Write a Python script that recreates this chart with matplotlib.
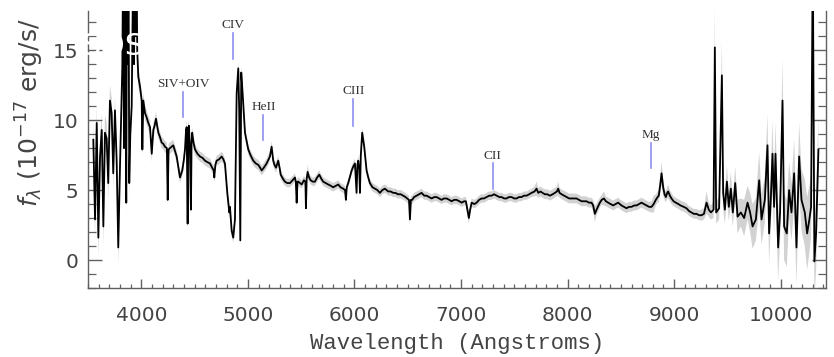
import matplotlib
matplotlib.use("Agg")
import matplotlib.pyplot as plt
import numpy as np
from matplotlib.ticker import MultipleLocator

# ---------------- data ----------------
# Segment A: Lyman-alpha forest / Lya emission
wl_a = [3550, 3566, 3582, 3597, 3613, 3629, 3644, 3659, 3675, 3690,
        3706, 3722, 3737, 3753, 3769, 3784, 3800, 3822, 3830, 3838,
        3845, 3852, 3859, 3866, 3874, 3880, 3887, 3897, 3910, 3925,
        3932, 3940, 3948, 3955, 3962, 3972, 3988, 4004]
fl_a = [8.6, 2.9, 9.8, 1.6, 7.4, 9.3, 2.4, 9.1, 8.7, 5.5,
        11.4, 10.5, 6.2, 10.7, 7.1, 0.9, 6.6, 13.8, 22.0, 8.0,
        22.0, 12.0, 4.1, 22.0, 14.0, 22.0, 5.5, 9.0, 11.0, 22.0,
        14.0, 22.0, 16.0, 22.0, 15.0, 13.1, 12.4, 11.4]
er_a = [1.3, 1.4, 1.3, 1.5, 1.2, 1.2, 1.4, 1.2, 1.2, 1.2,
        1.1, 1.1, 1.1, 1.0, 1.0, 1.2, 1.0, 1.0, 1.0, 1.0,
        1.0, 1.0, 1.0, 1.0, 1.0, 1.0, 1.0, 1.0, 1.0, 1.0,
        1.0, 1.0, 1.0, 1.0, 0.8, 0.7, 0.6, 0.6]

# Segment B: SiIV+OIV and CIV
wl_b = [4010, 4019, 4035, 4050, 4066, 4082, 4098, 4113, 4125, 4138,
        4160, 4175, 4191, 4207, 4222, 4240, 4248, 4256, 4269, 4285,
        4300, 4316, 4332, 4348, 4363, 4385, 4400, 4410, 4420, 4426,
        4435, 4441, 4447, 4456, 4466, 4472, 4478, 4490, 4504, 4527,
        4551, 4575, 4598, 4620, 4645, 4665, 4680, 4685, 4695, 4707,
        4730, 4754, 4770, 4785, 4807, 4826, 4832, 4848, 4863, 4879,
        4895, 4910, 4919, 4929, 4938, 4951]
fl_b = [7.9, 11.4, 10.5, 10.2, 9.8, 9.5, 7.6, 9.3, 9.6, 10.1,
        9.1, 8.8, 8.4, 8.3, 8.1, 8.0, 4.3, 7.9, 8.0, 8.1,
        8.2, 7.8, 7.4, 6.6, 5.9, 6.4, 7.2, 7.9, 9.3, 9.5,
        2.6, 9.3, 9.6, 8.0, 3.6, 8.5, 9.1, 8.4, 7.9, 7.6,
        7.4, 7.3, 7.1, 7.0, 6.9, 6.6, 6.4, 5.9, 6.8, 7.1,
        7.2, 7.4, 7.2, 6.9, 4.8, 3.4, 3.8, 2.1, 1.6, 2.9,
        11.9, 13.7, 10.7, 1.4, 13.4, 11.9]
er_b = [0.6, 0.6, 0.5, 0.5, 0.5, 0.5, 0.6, 0.5, 0.5, 0.5,
        0.4, 0.4, 0.4, 0.4, 0.4, 0.4, 0.5, 0.4, 0.4, 0.4,
        0.4, 0.4, 0.4, 0.4, 0.4, 0.4, 0.4, 0.4, 0.4, 0.4,
        0.5, 0.4, 0.4, 0.4, 0.5, 0.4, 0.4, 0.4, 0.4, 0.35,
        0.35, 0.35, 0.35, 0.35, 0.35, 0.35, 0.35, 0.4, 0.35, 0.35,
        0.35, 0.35, 0.35, 0.35, 0.4, 0.4, 0.4, 0.4, 0.4, 0.4,
        0.5, 0.5, 0.5, 0.5, 0.5, 0.4]

# Segment C: HeII and CIII]
wl_c = [4973, 5004, 5025, 5051, 5075, 5098, 5115, 5130, 5150, 5176,
        5195, 5207, 5223, 5238, 5250, 5264, 5285, 5300, 5308, 5330,
        5348, 5370, 5395, 5420, 5442, 5450, 5458, 5466, 5473, 5490,
        5505, 5526, 5540, 5545, 5552, 5561, 5575, 5589, 5610, 5629,
        5650, 5670, 5690, 5707, 5730, 5754, 5780, 5801, 5825, 5848,
        5870, 5895, 5912, 5920, 5928, 5942, 5960, 5974, 5990, 6005,
        6020, 6028, 6036, 6045, 6052, 6060, 6073, 6092, 6114, 6130,
        6145, 6170, 6192, 6215, 6239]
fl_c = [9.1, 7.9, 7.5, 7.1, 6.9, 6.8, 6.6, 6.4, 6.6, 6.9,
        7.2, 7.4, 8.1, 7.1, 6.8, 6.6, 7.1, 6.5, 6.1, 5.8,
        5.6, 5.5, 5.5, 5.7, 5.9, 5.6, 4.1, 5.6, 5.6, 5.5,
        5.4, 5.7, 5.6, 3.7, 5.8, 6.3, 5.9, 5.7, 5.6, 5.6,
        5.9, 6.1, 5.8, 5.6, 5.5, 5.4, 5.3, 5.2, 5.3, 5.4,
        5.2, 5.1, 5.0, 4.3, 5.2, 5.5, 6.0, 6.4, 6.7, 6.9,
        4.8, 6.8, 7.1, 6.5, 4.8, 7.5, 9.1, 8.1, 6.4, 5.9,
        5.5, 5.2, 5.1, 5.0, 4.8]
er_c = [0.4, 0.35, 0.35, 0.35, 0.35, 0.35, 0.35, 0.35, 0.35, 0.35,
        0.35, 0.35, 0.4, 0.35, 0.35, 0.35, 0.35, 0.35, 0.35, 0.3,
        0.3, 0.3, 0.3, 0.3, 0.3, 0.3, 0.4, 0.3, 0.3, 0.3,
        0.3, 0.3, 0.3, 0.4, 0.3, 0.5, 0.3, 0.3, 0.3, 0.3,
        0.3, 0.3, 0.3, 0.3, 0.3, 0.3, 0.3, 0.3, 0.3, 0.3,
        0.3, 0.3, 0.3, 0.4, 0.3, 0.3, 0.3, 0.3, 0.3, 0.35,
        0.4, 0.35, 0.35, 0.35, 0.4, 0.35, 0.4, 0.35, 0.3, 0.3,
        0.3, 0.3, 0.3, 0.3, 0.3]

# Segment D: red continuum, CII] and MgII
wl_d = [6262, 6286, 6317, 6340, 6364, 6385, 6408, 6435, 6458, 6480,
        6495, 6512, 6521, 6530, 6542, 6560, 6584, 6610, 6630, 6655,
        6677, 6700, 6724, 6750, 6771, 6795, 6818, 6840, 6865, 6890,
        6912, 6935, 6959, 6985, 7006, 7030, 7046, 7062, 7074, 7086,
        7100, 7125, 7146, 7170, 7193, 7215, 7240, 7265, 7287, 7310,
        7334, 7360, 7381, 7405, 7427, 7450, 7474, 7500, 7521, 7545,
        7568, 7590, 7615, 7640, 7662, 7690, 7709, 7725, 7746, 7765,
        7787, 7810, 7834, 7860, 7881, 7900, 7912, 7925, 7944, 7968,
        7991, 8015, 8037, 8060, 8084, 8108, 8131, 8155, 8178, 8200,
        8225, 8240, 8256, 8272, 8290, 8303, 8320, 8341, 8360, 8381,
        8405, 8428, 8450, 8475, 8490, 8506, 8530, 8553, 8577, 8600,
        8625, 8647, 8670, 8694, 8718, 8741, 8765, 8788, 8808, 8828,
        8845, 8856, 8870, 8882, 8897, 8910, 8922, 8935, 8944, 8960,
        8975, 8995, 9016, 9040, 9060, 9090, 9116, 9140, 9163, 9185,
        9210, 9235, 9257, 9280, 9304, 9325, 9345]
fl_d = [5.0, 5.1, 4.9, 4.9, 4.8, 4.8, 4.7, 4.7, 4.6, 4.5,
        4.4, 4.3, 2.9, 4.3, 4.3, 4.5, 4.6, 4.7, 4.8, 4.6,
        4.6, 4.5, 4.4, 4.5, 4.5, 4.4, 4.3, 4.4, 4.4, 4.3,
        4.2, 4.3, 4.3, 4.2, 4.1, 4.2, 4.2, 3.5, 3.0, 3.6,
        4.1, 4.0, 4.1, 4.3, 4.4, 4.4, 4.5, 4.6, 4.6, 4.7,
        4.6, 4.5, 4.5, 4.4, 4.4, 4.5, 4.5, 4.4, 4.4, 4.5,
        4.5, 4.6, 4.6, 4.7, 4.8, 4.9, 5.1, 4.8, 4.9, 4.8,
        4.7, 4.7, 4.6, 4.7, 4.8, 4.9, 5.1, 4.8, 4.7, 4.6,
        4.5, 4.4, 4.4, 4.4, 4.4, 4.3, 4.2, 4.2, 4.2, 4.1,
        4.1, 3.9, 3.3, 3.6, 3.9, 4.1, 4.3, 4.4, 4.2, 4.1,
        4.0, 3.9, 4.0, 4.1, 4.0, 3.9, 3.8, 3.7, 3.8, 3.8,
        3.9, 3.9, 4.0, 4.1, 4.0, 3.9, 3.8, 3.8, 4.0, 4.3,
        4.5, 4.6, 5.4, 6.2, 5.2, 4.7, 4.5, 4.8, 4.9, 4.6,
        4.4, 4.2, 4.1, 4.0, 3.9, 3.8, 3.7, 3.5, 3.4, 3.3,
        3.3, 3.2, 3.2, 3.3, 4.1, 3.6, 3.4]
er_d = [0.3, 0.3, 0.3, 0.3, 0.3, 0.3, 0.3, 0.3, 0.3, 0.3,
        0.3, 0.3, 0.4, 0.3, 0.3, 0.3, 0.3, 0.3, 0.3, 0.3,
        0.3, 0.3, 0.3, 0.3, 0.3, 0.3, 0.3, 0.3, 0.3, 0.3,
        0.3, 0.3, 0.3, 0.3, 0.3, 0.3, 0.3, 0.4, 0.4, 0.3,
        0.3, 0.3, 0.3, 0.3, 0.3, 0.3, 0.3, 0.3, 0.3, 0.3,
        0.3, 0.3, 0.3, 0.3, 0.3, 0.3, 0.3, 0.3, 0.3, 0.3,
        0.3, 0.3, 0.3, 0.3, 0.3, 0.35, 0.5, 0.35, 0.35, 0.35,
        0.35, 0.35, 0.35, 0.35, 0.35, 0.35, 0.5, 0.35, 0.35, 0.35,
        0.35, 0.35, 0.35, 0.35, 0.35, 0.35, 0.35, 0.35, 0.35, 0.35,
        0.35, 0.4, 0.6, 0.4, 0.4, 0.35, 0.35, 0.5, 0.35, 0.35,
        0.35, 0.35, 0.35, 0.35, 0.35, 0.35, 0.35, 0.35, 0.35, 0.35,
        0.35, 0.35, 0.35, 0.35, 0.35, 0.35, 0.35, 0.4, 0.6, 0.4,
        0.4, 0.5, 0.7, 0.8, 0.6, 0.4, 0.4, 0.4, 0.5, 0.4,
        0.4, 0.35, 0.35, 0.35, 0.35, 0.35, 0.35, 0.35, 0.35, 0.35,
        0.35, 0.35, 0.4, 0.4, 0.8, 0.5, 0.5]

# Segment E: noisy far red end (sky residuals)
wl_e = [9370, 9382, 9394, 9422, 9448, 9460, 9476, 9495, 9513, 9532,
        9551, 9573, 9595, 9626, 9657, 9689, 9713, 9736, 9767, 9798,
        9820, 9851, 9876, 9891, 9907, 9923, 9938, 9951, 9976, 9994,
        10017, 10032, 10057, 10079, 10101, 10126, 10148, 10173, 10195, 10226,
        10248, 10269, 10285, 10301, 10316, 10332, 10354]
fl_e = [3.6, 15.2, 3.4, 3.7, 13.2, 4.8, 3.6, 5.6, 3.8, 5.1,
        3.4, 5.5, 3.1, 3.4, 3.0, 4.1, 3.4, 2.4, 2.9, 5.7,
        2.9, 4.3, 8.2, 1.9, 4.3, 7.6, 3.8, 7.6, 0.9, 3.4,
        11.4, 2.4, 1.9, 5.0, 3.4, 6.2, 0.9, 7.4, 4.3, 3.4,
        1.9, 2.9, 3.8, 22.0, -0.1, 1.9, 7.9]
er_e = [0.6, 3.0, 0.8, 0.8, 2.5, 1.2, 1.0, 1.2, 1.0, 1.2,
        1.0, 1.2, 1.2, 1.0, 1.3, 1.2, 1.4, 1.6, 1.5, 2.0,
        1.8, 1.6, 2.2, 2.2, 1.8, 2.4, 2.0, 2.2, 2.4, 2.0,
        3.0, 2.4, 2.4, 2.0, 2.0, 2.4, 2.6, 2.4, 2.2, 2.4,
        2.6, 2.4, 2.2, 3.0, 2.8, 2.6, 2.4]

# Emission-line markers
line_names = ["SIV+OIV", "CIV", "HeII", "CIII", "CII", "Mg"]
line_wl = [4392, 4860, 5146, 5990, 7298, 8785]
marker_lo = [10.2, 14.4, 8.6, 9.6, 5.1, 6.6]
marker_hi = [12.0, 16.2, 10.4, 11.5, 6.9, 8.4]

x_ticks = [4000, 5000, 6000, 7000, 8000, 9000, 10000]
y_ticks = [0, 5, 10, 15]

# ---------------- figure ----------------
wl = np.array(wl_a + wl_b + wl_c + wl_d + wl_e, dtype=float)
fl = np.array(fl_a + fl_b + fl_c + fl_d + fl_e, dtype=float)
er = np.array(er_a + er_b + er_c + er_d + er_e, dtype=float)

W, H = 834, 357
fig = plt.figure(figsize=(W / 100, H / 100), dpi=100)
ax = fig.add_axes([88 / W, (H - 288) / H, (826 - 88) / W, (288 - 11) / H])

ax.fill_between(wl, fl - er, fl + er, color="#d2d2d2", lw=0, zorder=1)
ax.plot(wl, fl, color="black", lw=1.3, zorder=2)

# faint white watermark title (drawn over the spectrum, under the markers)
ax.text(82 / W, (H - 55) / H, "SDSS Spectrum  Random Sample",
        transform=fig.transFigure, ha="left", va="baseline", fontsize=22,
        color="white", zorder=2.6, clip_on=False)

for name, lw_, lo, hi in zip(line_names, line_wl, marker_lo, marker_hi):
    ax.plot([lw_, lw_], [lo, hi], color="#8f8ff2", lw=1.2, zorder=3)
    ax.text(lw_, hi + 0.35, name, ha="center", va="baseline",
            fontsize=9.5, family="Liberation Serif", color="#333333", zorder=3)

ax.set_xlim(3500, 10425)
ax.set_ylim(-2, 17.8)

ax.set_xticks(x_ticks)
ax.set_yticks(y_ticks)
ax.xaxis.set_minor_locator(MultipleLocator(100))
ax.yaxis.set_minor_locator(MultipleLocator(1))

spine_col = "#606060"
for s in ["left", "bottom", "right"]:
    ax.spines[s].set_color(spine_col)
    ax.spines[s].set_linewidth(1.0)
ax.spines["top"].set_visible(False)

ax.tick_params(axis="x", which="major", direction="in", length=6.5, width=1.0,
               color=spine_col, labelsize=14.5, labelcolor="#444444", pad=13,
               top=False)
ax.tick_params(axis="x", which="minor", direction="in", length=3.2, width=0.9,
               color=spine_col, top=False)
ax.tick_params(axis="y", which="major", direction="in", length=10, width=1.0,
               color=spine_col, labelsize=14.5, labelcolor="#444444", pad=7,
               right=True)
ax.tick_params(axis="y", which="minor", direction="in", length=5.5, width=0.9,
               color=spine_col, right=True)

ax.set_xlabel("Wavelength (Angstroms)", family="Liberation Mono", fontsize=16,
              color="#444444", labelpad=6)

# y label: only the part that the reference shows inside the canvas
fig.text(30 / W, (H - 207) / H,
         r"$f_\lambda$ (10$^{-17}$ erg/s/",
         rotation=90, ha="center", va="bottom", fontsize=18, color="#444444")

fig.savefig("out.png", dpi=100)
